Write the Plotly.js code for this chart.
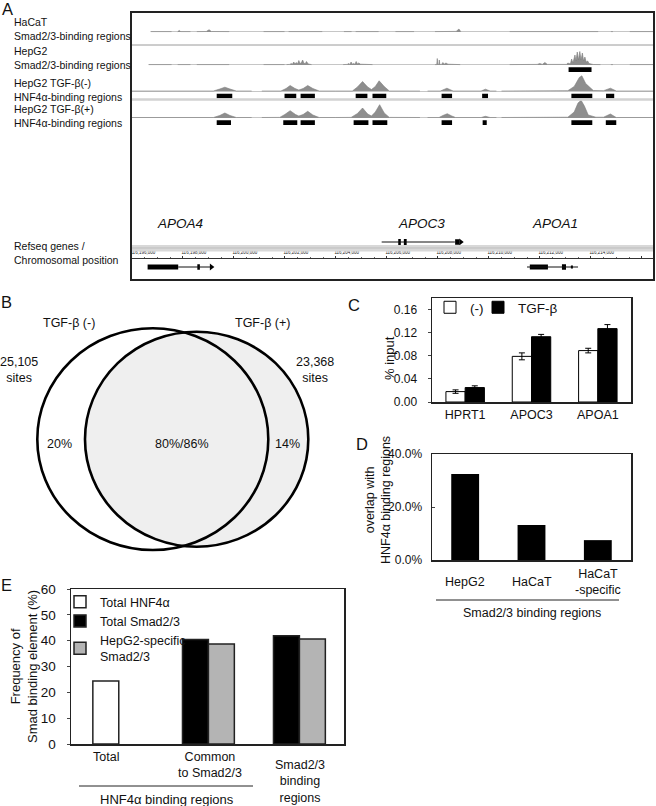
<!DOCTYPE html>
<html><head><meta charset="utf-8">
<script src="https://cdn.plot.ly/plotly-3.0.1.min.js"></script>
<style>html,body{margin:0;padding:0;background:#fff}#chart{width:656px;height:806px}</style>
</head><body><div id="chart"></div>
<script>
// ---------------- DATA ----------------
// Panel A: genome browser (x in kb from 116,196,000)
const rulerTicks = [0,2,4,6,8,10,12,14,16,18,20];
const rulerLabels = ['116,196,000','116,198,000','116,200,000','116,202,000','116,204,000','116,206,000','116,208,000','116,210,000','116,212,000','116,214,000','116,216,000'];
const trackLabels = ['HaCaT<br>Smad2/3-binding regions','HepG2<br>Smad2/3-binding regions','HepG2 TGF-β(-)<br>HNF4α-binding regions','HepG2 TGF-β(+)<br>HNF4α-binding regions'];

const hacatX = [0.74,1.56,null,1.80,1.86,1.92,2.30,null,2.55,2.92,3.03,3.12,3.82,null,5.17,5.99,null,6.15,7.47,null,8.32,8.62,null,8.78,9.68,null,10.34,11.07,null,11.89,12.72,12.83,12.9,null,14.82,18.29,null,18.79,18.87,null,19.53,20.48];
const hacatY = [0.4,0.4,null,0.4,1.5,0.4,0.4,null,0.4,0.5,2.3,0.5,0.4,null,0.4,0.4,null,0.4,0.4,null,0.4,0.4,null,0.4,0.4,null,0.4,0.4,null,0.4,0.6,3,0.4,null,0.4,0.4,null,0.4,0.4,null,0.4,0.4];

const hepg2X = [0.66,1.56,null,1.80,2.30,null,2.55,3.82,null,5.17,5.99,null,6.07,6.2,6.25,6.3,6.35,6.4,6.45,6.5,6.55,6.6,6.65,6.7,6.75,6.8,6.85,6.92,7.05,null,8.29,8.45,8.5,8.55,8.6,8.65,8.7,8.75,8.8,8.85,8.9,8.97,9.44,null,11.89,11.96,11.98,12.0,12.04,12.06,12.08,12.15,12.2,12.25,12.32,12.4,12.88,null,14.82,15.9,16.0,16.1,16.2,16.3,17.05,17.1,17.2,17.25,17.3,17.38,17.42,17.47,17.52,17.57,17.62,17.67,17.72,17.77,17.82,17.88,17.93,18.0,18.1,18.38,null,18.79,18.87,null,19.53,20.48];
const hepg2Y = [0.4,0.4,null,0.4,0.4,null,0.4,0.4,null,0.4,0.4,null,0.4,0.6,1.5,0.8,3,1.2,2.5,1,4.5,1.5,2.2,5,1.8,1.2,3.5,1,0.4,null,0.4,0.6,1.5,0.6,3,0.8,1.5,0.7,3.5,1,2,0.8,0.4,null,0.4,0.4,6.5,0.5,0.5,5,0.5,0.6,2.5,0.8,2,0.8,0.4,null,0.4,0.6,1.5,0.6,2.5,0.6,0.6,2,1,6,2,10,4,13,5,13.5,5,12,4,8,3,4,1.5,0.8,0.5,0.4,null,0.4,0.4,null,0.4,0.4];
const hepg2RegStart = [17.13];
const hepg2RegEnd = [18.03];

const tgfMinusX = [0,3.2,3.45,3.65,3.85,4.1,4.7,null,5.1,5.85,6.05,6.21,6.4,6.55,6.72,6.9,7.1,7.35,8.0,8.65,8.85,9.05,9.25,9.4,9.55,9.7,9.9,10.1,11.3,null,11.6,12.1,12.36,12.6,13.7,13.87,14.05,14.3,null,14.5,17.1,17.35,17.55,17.65,17.8,18.1,18.5,18.77,19.0,20.48];
const tgfMinusY = [0.5,0.5,2.5,4.3,2.5,0.5,0.5,null,0.5,0.5,3,6,3,1.5,3,6,3,0.5,0.5,0.5,4.5,10,4.5,2,5,10.7,5,0.5,0.5,null,0.5,0.5,3.3,0.5,0.5,2.3,0.5,0.5,null,0.5,0.8,5,14,15.7,8,1,0.8,3.3,0.5,0.5];
const tgfMinusRegStart = [3.33,5.99,6.62,8.78,9.44,12.15,13.74,17.24,18.60];
const tgfMinusRegEnd   = [3.94,6.45,7.18,9.24,9.98,12.56,13.97,18.06,18.92];

const tgfPlusX = [0,3.2,3.45,3.65,3.85,4.1,4.7,null,5.1,5.8,6.0,6.21,6.42,6.55,6.72,6.9,7.1,7.35,8.0,8.6,8.85,9.05,9.25,9.4,9.55,9.72,9.9,10.1,11.3,null,11.6,12.05,12.2,12.37,12.55,12.7,13.7,13.87,14.05,14.3,null,14.5,17.1,17.35,17.5,17.62,17.75,17.9,18.2,18.5,18.77,19.0,20.48];
const tgfPlusY = [0.5,0.5,2.5,5,2.5,0.5,0.5,null,0.5,0.6,3.5,7.3,3.5,2,3.5,6.7,3,0.5,0.5,0.6,4.5,10,4,2,6,13.3,5,0.6,0.5,null,0.5,0.5,2.5,4.3,2,0.5,0.5,1.7,0.5,0.5,null,0.5,0.8,6,15,17.7,12,3,0.8,0.8,4,0.5,0.5];
const tgfPlusRegStart = [3.33,5.94,6.62,8.70,9.44,12.15,13.76,17.24,18.59];
const tgfPlusRegEnd   = [3.89,6.49,7.18,9.28,10.02,12.56,13.92,18.06,19.00];

// Refseq gene models (row 0 = upper line, row 1 = lower)
const geneNames = ['APOA4','APOC3','APOA1'];
const geneLabelPos = [1.90, 11.35, 16.60];
const exonRow   = [1,1,0,0,0,1,1,1];
const exonStart = [0.62,2.57,10.45,10.67,12.68,15.61,16.87,17.22];
const exonEnd   = [1.82,2.67,10.55,10.78,12.85,16.32,17.03,17.30];
const exonH     = [0.2,0.22,0.24,0.24,0.22,0.2,0.22,0.12];
const intronRow   = [1,0,1];
const intronStart = [1.82,9.80,15.50];
const intronEnd   = [3.15,12.67,17.50];
const arrowRow = [1,0];
const arrowPos = [3.12,12.9];

// Panel B: Venn
const vennSets = ['TGF-β (-)','TGF-β (+)'];
const vennSites = ['25,105<br>sites','23,368<br>sites'];
const vennPct = ['20%','80%/86%','14%'];

// Panel C: ChIP-qPCR
const cCats = ['HPRT1','APOC3','APOA1'];
const cCtrl = [0.018,0.079,0.089];
const cCtrlErr = [0.003,0.006,0.004];
const cTgf = [0.025,0.113,0.127];
const cTgfErr = [0.003,0.004,0.007];
const cTicks = [0,0.04,0.08,0.12,0.16];

// Panel D
const dCats = ['HepG2','HaCaT','HaCaT-specific'];
const dLabels = ['HepG2','HaCaT','HaCaT<br>-specific'];
const dVals = [0.325,0.132,0.075];
const dTicks = [0,0.2,0.4];

// Panel E
const eCats = ['Total','Common to Smad2/3','Smad2/3 binding regions'];
const eLabels = ['Total','Common<br>to Smad2/3','Smad2/3<br>binding<br>regions'];
const eHnf = [24.4,null,null];
const eSmad = [null,40.5,41.9];
const eHepSmad = [null,38.7,40.6];

// ---------------- LAYOUT HELPERS ----------------
const W=656,H=806;
const FONT='Liberation Sans, Arial, sans-serif';
const fx = p => p/W;
const fy = p => 1-p/H;
const dom = (t,b) => [1-b/H, 1-t/H];

const traces = [];
function sig(x,y,ya){
  traces.push({type:'scatter',mode:'lines',x:x,y:y,xaxis:'x',yaxis:ya,fill:'tozeroy',
    line:{color:'#7d7d7d',width:0.6},fillcolor:'#8e8e8e',connectgaps:false,showlegend:false,hoverinfo:'skip'});
}
function regs(s,e,ya){
  traces.push({type:'bar',orientation:'h',base:s,x:e.map((v,i)=>v-s[i]),y:s.map(()=>-4.6),width:4.6,
    xaxis:'x',yaxis:ya,marker:{color:'#000',line:{width:0}},showlegend:false,hoverinfo:'skip'});
}
sig(hacatX,hacatY,'y');
sig(hepg2X,hepg2Y,'y2'); regs(hepg2RegStart,hepg2RegEnd,'y2');
sig(tgfMinusX,tgfMinusY,'y3'); regs(tgfMinusRegStart,tgfMinusRegEnd,'y3');
sig(tgfPlusX,tgfPlusY,'y4'); regs(tgfPlusRegStart,tgfPlusRegEnd,'y4');

// gene models
const ix=[],iy=[];
intronStart.forEach((s,i)=>{ix.push(s,intronEnd[i],null);iy.push(intronRow[i],intronRow[i],null);});
traces.push({type:'scatter',mode:'lines',x:ix,y:iy,xaxis:'x',yaxis:'y5',line:{color:'#111',width:1},showlegend:false,hoverinfo:'skip'});
traces.push({type:'bar',orientation:'h',base:exonStart,x:exonEnd.map((v,i)=>v-exonStart[i]),y:exonRow,width:exonH,
  xaxis:'x',yaxis:'y5',marker:{color:'#000',line:{width:0}},showlegend:false,hoverinfo:'skip'});
traces.push({type:'scatter',mode:'markers',x:arrowPos,y:arrowRow,xaxis:'x',yaxis:'y5',
  marker:{symbol:'triangle-right',size:6,color:'#000'},showlegend:false,hoverinfo:'skip'});

// Panel C
traces.push({type:'bar',name:'(-)',x:cCats,y:cCtrl,xaxis:'x2',yaxis:'y6',width:0.29,offset:-0.29,
  marker:{color:'#fff',line:{color:'#000',width:1}},error_y:{type:'data',array:cCtrlErr,color:'#000',thickness:1,width:3},legend:'legend2'});
traces.push({type:'bar',name:'TGF-β',x:cCats,y:cTgf,xaxis:'x2',yaxis:'y6',width:0.29,offset:0,
  marker:{color:'#000',line:{color:'#000',width:1}},error_y:{type:'data',array:cTgfErr,color:'#000',thickness:1,width:3},legend:'legend4'});

// Panel D
traces.push({type:'bar',x:dCats,y:dVals,xaxis:'x3',yaxis:'y7',width:0.42,marker:{color:'#000'},showlegend:false});

// Panel E
traces.push({type:'bar',name:'Total HNF4α',x:eCats,y:eHnf,xaxis:'x4',yaxis:'y8',width:0.285,offset:-0.26,
  marker:{color:'#fff',line:{color:'#222',width:1.5}},legend:'legend3'});
traces.push({type:'bar',name:'Total Smad2/3',x:eCats,y:eSmad,xaxis:'x4',yaxis:'y8',width:0.285,offset:-0.275,
  marker:{color:'#000',line:{color:'#222',width:1.5}},legend:'legend3'});
traces.push({type:'bar',name:'HepG2-specific<br>Smad2/3',x:eCats,y:eHepSmad,xaxis:'x4',yaxis:'y8',width:0.285,offset:0.01,
  marker:{color:'#b4b4b4',line:{color:'#222',width:1.5}},legend:'legend3'});

// ---------------- LAYOUT ----------------
const ann = [];
function txt(t,x,y,o){ann.push(Object.assign({text:t,x:fx(x),y:fy(y),xref:'paper',yref:'paper',showarrow:false,
  font:{family:FONT,size:12.5,color:'#111'},xanchor:'center',yanchor:'middle'},o||{}));}

// panel letters
[['A',7,9],['B',6,302],['C',354,305],['D',362,444],['E',6,585]].forEach(l=>txt(l[0],l[1],l[2],{font:{family:FONT,size:16.5,color:'#111'}}));
// track labels A
const trackY=[29,58,90,116];
trackLabels.forEach((t,i)=>txt(t,12,trackY[i],{xanchor:'left',align:'left',font:{family:FONT,size:10.5,color:'#111'}}));
txt('Refseq genes /<br>Chromosomal position',12,253,{xanchor:'left',align:'left',font:{family:FONT,size:10.5,color:'#111'}});
// gene names
geneNames.forEach((g,i)=>ann.push({text:g,x:geneLabelPos[i],y:fy(223),xref:'x',yref:'paper',showarrow:false,
  font:{family:FONT,size:13.5,color:'#111',style:'italic'},xanchor:'center',yanchor:'middle'}));
// Venn text
txt(vennSets[0],69,323); txt(vennSets[1],262,323);
txt(vennSites[0],19,370); txt(vennSites[1],315,370);
txt(vennPct[0],59,444); txt(vennPct[1],182,444); txt(vennPct[2],287,444);
// C title
txt('% input',389,358,{textangle:-90,font:{family:FONT,size:13,color:'#111'}});
// D
txt('overlap with<br>HNF4α binding regions',378,500,{textangle:-90});
dCats.forEach((c,i)=>ann.push({text:dLabels[i],x:c,y:fy(582),xref:'x3',yref:'paper',showarrow:false,
  font:{family:FONT,size:12.5,color:'#111'},xanchor:'center',yanchor:'middle'}));
txt('Smad2/3 binding regions',532,613);
// E
txt('Frequency of<br>Smad binding element (%)',24,667,{textangle:-90,font:{family:FONT,size:13,color:'#111'}});
const eLabX=[106,210,300], eLabY=[757,765,781];
eLabels.forEach((t,i)=>txt(t,eLabX[i],eLabY[i],{font:{family:FONT,size:12.5,color:'#111'}}));
txt('HNF4α binding regions',167,799,{font:{family:FONT,size:13,color:'#111'}});

const shapes = [
  // Venn
  {type:'circle',xref:'paper',yref:'paper',x0:fx(85),x1:fx(308.3),y0:fy(546.7),y1:fy(331.7),fillcolor:'#efefef',line:{color:'#000',width:2.6}},
  {type:'circle',xref:'paper',yref:'paper',x0:fx(37.3),x1:fx(268.3),y0:fy(550),y1:fy(328.3),fillcolor:'rgba(0,0,0,0)',line:{color:'#000',width:2.6}},
  // A decorations
  {type:'line',xref:'paper',yref:'paper',x0:fx(131),x1:fx(654),y0:fy(45),y1:fy(45),line:{color:'#9a9a9a',width:1}},
  {type:'line',xref:'paper',yref:'paper',x0:fx(131),x1:fx(654),y0:fy(99.5),y1:fy(99.5),line:{color:'#d2d2d2',width:2.5}},
  {type:'rect',xref:'paper',yref:'paper',x0:fx(131),x1:fx(654),y0:fy(251.5),y1:fy(245),fillcolor:'#d8d8d8',line:{width:0}},
  {type:'line',xref:'paper',yref:'paper',x0:fx(131),x1:fx(654),y0:fy(248),y1:fy(248),line:{color:'#bdbdbd',width:1}},
  {type:'rect',xref:'paper',yref:'paper',x0:fx(131),x1:fx(654),y0:fy(280),y1:fy(12),fillcolor:'rgba(0,0,0,0)',line:{color:'#222',width:2}},
  // underlines
  {type:'line',xref:'paper',yref:'paper',x0:fx(436),x1:fx(619),y0:fy(600),y1:fy(600),line:{color:'#222',width:1}},
  {type:'line',xref:'paper',yref:'paper',x0:fx(79),x1:fx(253),y0:fy(786),y1:fy(786),line:{color:'#222',width:1}}
];

const frame = {showline:true,mirror:true,linecolor:'#222',linewidth:1.5,showgrid:false,zeroline:false,fixedrange:true};
const hid = {visible:false,fixedrange:true};
const legBase = {xanchor:'left',yanchor:'top',bgcolor:'rgba(0,0,0,0)',tracegroupgap:0};
const layout = {
  width:W,height:H,autosize:false,margin:{l:0,r:0,t:0,b:0},
  paper_bgcolor:'#fff',plot_bgcolor:'rgba(0,0,0,0)',
  font:{family:FONT,color:'#111',size:12},
  barmode:'overlay',
  xaxis:{domain:[fx(131.8),fx(654)],range:[0,20.48],anchor:'free',position:fy(257.5),side:'top',
    tickvals:rulerTicks,ticktext:rulerLabels,tickfont:{size:4.5,color:'#222'},ticks:'outside',ticklen:2,tickcolor:'#333',
    ticklabelshift:11,ticklabelstandoff:0,showline:true,linecolor:'#333',linewidth:1,showgrid:false,zeroline:false,fixedrange:true,
    minor:{ticks:'outside',ticklen:1,dtick:0.5,tickcolor:'#666'}},
  yaxis:Object.assign({domain:dom(14,39),range:[-7,18],anchor:'x'},hid),
  yaxis2:Object.assign({domain:dom(47,72),range:[-7,18],anchor:'x'},hid),
  yaxis3:Object.assign({domain:dom(73.5,98.5),range:[-7,18],anchor:'x'},hid),
  yaxis4:Object.assign({domain:dom(100,125),range:[-7,18],anchor:'x'},hid),
  yaxis5:Object.assign({domain:dom(236,273),range:[1.24,-0.24],anchor:'x'},hid),
  // C
  xaxis2:Object.assign({domain:[fx(432),fx(631)],anchor:'y6',range:[-0.5,2.5],type:'category',tickfont:{size:12.5},ticks:''},frame),
  yaxis6:Object.assign({domain:dom(298,402),anchor:'x2',range:[0,0.18],tickvals:cTicks,tickformat:'.2f',ticks:'outside',ticklen:3,
    tickfont:{size:12},ticklabelstandoff:8},frame),
  // D
  xaxis3:Object.assign({domain:[fx(432),fx(631)],anchor:'y7',range:[-0.5,2.5],type:'category',showticklabels:false,ticks:''},frame),
  yaxis7:Object.assign({domain:dom(454,560),anchor:'x3',range:[0,0.4],tickvals:dTicks,tickformat:'.1%',ticks:'inside',ticklen:3,
    tickfont:{size:12},ticklabelstandoff:6},frame),
  // E
  xaxis4:Object.assign({domain:[fx(71),fx(344)],anchor:'y8',range:[-0.5,2.5],type:'category',showticklabels:false,ticks:''},frame),
  yaxis8:Object.assign({domain:dom(589,744),anchor:'x4',range:[0,60],dtick:10,ticks:'outside',ticklen:3,
    tickfont:{size:13.5},ticklabelstandoff:8},frame),
  legend2:Object.assign({x:fx(430),y:fy(292),orientation:'h',font:{family:FONT,size:13.5,color:'#111'}},legBase),
  legend4:Object.assign({x:fx(478),y:fy(292),orientation:'h',font:{family:FONT,size:13.5,color:'#111'}},legBase),
  legend3:Object.assign({x:fx(60),y:fy(587),orientation:'v',font:{family:FONT,size:12.5,color:'#111'}},legBase),
  annotations:ann, shapes:shapes
};
Plotly.newPlot('chart',traces,layout,{staticPlot:true,displayModeBar:false});
</script></body></html>
